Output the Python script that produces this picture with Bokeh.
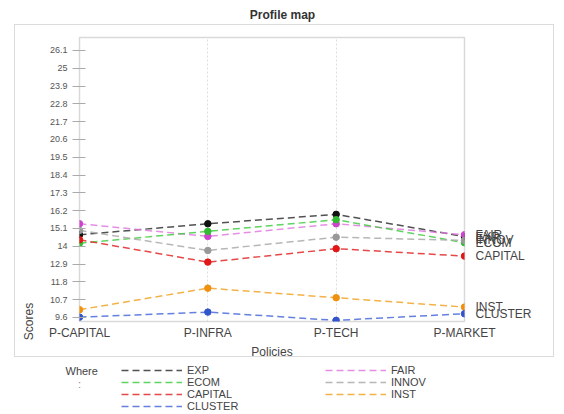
from bokeh.plotting import figure
from bokeh.layouts import column
from bokeh.models import (Range1d, FixedTicker, LinearAxis, Legend, LegendItem, Label,
                          InlineStyleSheet)
from bokeh.embed import file_html
from bokeh.resources import INLINE

# ---------------- data ----------------
policies = ["P-CAPITAL", "P-INFRA", "P-TECH", "P-MARKET"]
series_names = ["EXP", "FAIR", "ECOM", "INNOV", "CAPITAL", "INST", "CLUSTER"]
exp_vals = [14.71, 15.39, 15.97, 14.60]
fair_vals = [15.39, 14.61, 15.39, 14.71]
ecom_vals = [14.19, 14.92, 15.64, 14.22]
innov_vals = [14.98, 13.74, 14.56, 14.36]
capital_vals = [14.40, 13.02, 13.85, 13.39]
inst_vals = [10.08, 11.41, 10.82, 10.24]
cluster_vals = [9.62, 9.93, 9.42, 9.83]
y_ticks = [9.6, 10.7, 11.8, 12.9, 14.0, 15.1, 16.2, 17.3, 18.4, 19.5,
           20.6, 21.7, 22.8, 23.9, 25.0, 26.1]
y_tick_labels = ["9.6", "10.7", "11.8", "12.9", "14", "15.1", "16.2", "17.3",
                 "18.4", "19.5", "20.6", "21.7", "22.8", "23.9", "25", "26.1"]
legend_col1 = ["EXP", "ECOM", "CAPITAL", "CLUSTER"]
legend_col2 = ["FAIR", "INNOV", "INST"]

values = {"EXP": exp_vals, "FAIR": fair_vals, "ECOM": ecom_vals, "INNOV": innov_vals,
          "CAPITAL": capital_vals, "INST": inst_vals, "CLUSTER": cluster_vals}
line_colors = {"EXP": "#333333", "FAIR": "#e07ae0", "ECOM": "#44cc44", "INNOV": "#aaaaaa",
               "CAPITAL": "#e02828", "INST": "#f0a428", "CLUSTER": "#4a6ad8"}
point_colors = {"EXP": "#111111", "FAIR": "#cc44cc", "ECOM": "#33bb33", "INNOV": "#999999",
                "CAPITAL": "#e01818", "INST": "#f09010", "CLUSTER": "#3355cc"}

FONT = "Liberation Sans"
W = 560
FRAME_L, FRAME_R = 79, 464
xs = list(range(len(policies)))
DASH = "7 4"

# ---------------- title strip (frame aligned with main plot frame) ----------------
pt = figure(width=W, height=24, output_backend="svg", toolbar_location=None,
            x_range=Range1d(FRAME_L, FRAME_R), y_range=Range1d(0, 24),
            x_axis_location=None, y_axis_location=None, min_border=0,
            outline_line_color=None, border_fill_color="white")
pt.grid.visible = False
pt.add_layout(Label(x=282, y=10, text="Profile map", text_align="center",
                    text_baseline="middle", text_font=FONT, text_font_size="12px",
                    text_font_style="bold", text_color="#333333"))

# ---------------- main plot ----------------
box_css = InlineStyleSheet(css="""
:host { position: relative; }
:host::after {
  content: ""; position: absolute; left: 14px; top: 0px; width: 540px; height: 333px;
  border: 1.5px solid #dcdcdc; box-sizing: border-box; pointer-events: none;
}
""")

p = figure(width=W, height=340, output_backend="svg", toolbar_location=None,
           x_range=Range1d(0, 3), y_range=Range1d(9.35, 26.9),
           min_border_left=FRAME_L, min_border_right=W - FRAME_R,
           min_border_top=13, min_border_bottom=43,
           background_fill_color="white", border_fill_color="white",
           stylesheets=[box_css])
p.outline_line_color = "#d9d9d9"
p.outline_line_width = 1.5

xaxis = p.xaxis[0]
xaxis.ticker = FixedTicker(ticks=xs)
xaxis.major_label_overrides = {i: n for i, n in zip(xs, policies)}
xaxis.major_tick_line_color = None
xaxis.major_tick_out = 0
xaxis.major_tick_in = 0
xaxis.minor_tick_line_color = None
xaxis.axis_line_color = None
xaxis.major_label_standoff = 4
xaxis.major_label_text_font = FONT
xaxis.major_label_text_font_size = "12px"
xaxis.major_label_text_color = "#444444"
xaxis.axis_label = "Policies"
xaxis.axis_label_standoff = 2
xaxis.axis_label_text_font = FONT
xaxis.axis_label_text_font_size = "12px"
xaxis.axis_label_text_font_style = "normal"
xaxis.axis_label_text_color = "#444444"

yaxis = p.yaxis[0]
yaxis.ticker = FixedTicker(ticks=y_ticks)
yaxis.major_label_overrides = dict(zip(y_ticks, y_tick_labels))
yaxis.major_tick_out = 7
yaxis.major_tick_in = 6
yaxis.major_tick_line_color = "#aaaaaa"
yaxis.minor_tick_line_color = None
yaxis.axis_line_color = None
yaxis.major_label_standoff = 5
yaxis.major_label_text_font = FONT
yaxis.major_label_text_font_size = "9px"
yaxis.major_label_text_color = "#555555"
yaxis.axis_label = "Scores"
yaxis.axis_label_standoff = 11
yaxis.axis_label_text_font = FONT
yaxis.axis_label_text_font_size = "12px"
yaxis.axis_label_text_font_style = "normal"
yaxis.axis_label_text_color = "#444444"
yaxis.axis_label_align = "start"

# right axis carrying the series names at the last policy
end_values = [values[n][-1] for n in series_names]
end_axis = LinearAxis(ticker=FixedTicker(ticks=end_values),
                      major_label_overrides=dict(zip(end_values, series_names)))
end_axis.major_tick_out = 0
end_axis.major_tick_in = 0
end_axis.major_tick_line_color = None
end_axis.minor_tick_line_color = None
end_axis.axis_line_color = None
end_axis.major_label_standoff = 11
end_axis.major_label_text_font = FONT
end_axis.major_label_text_font_size = "12px"
end_axis.major_label_text_color = "#444444"
p.add_layout(end_axis, "right")

p.ygrid.grid_line_color = None
p.xgrid.grid_line_color = "#dddddd"
p.xgrid.grid_line_dash = "2 2"

for name in series_names:
    p.line(xs, values[name], line_color=line_colors[name], line_width=1.5,
           line_dash=DASH, line_alpha=0.85)
    p.scatter(xs, values[name], size=6.5, fill_color=point_colors[name],
              line_color=point_colors[name])

# ---------------- legend strip (separate root, full-canvas frame) ----------------
pl = figure(width=W, height=50, output_backend="svg", toolbar_location=None,
            x_range=Range1d(0, W), y_range=Range1d(0, 50),
            x_axis_location=None, y_axis_location=None, min_border=0,
            outline_line_color=None, border_fill_color="white")
pl.grid.visible = False
nan = float("nan")
key_renderers = {}
for name in series_names:
    key_renderers[name] = pl.line(x=[nan], y=[nan], line_color=line_colors[name],
                                  line_width=1.5, line_dash=DASH, line_alpha=0.85)

common = dict(orientation="vertical", glyph_width=61, glyph_height=12, label_height=12,
              label_standoff=5, spacing=0, padding=0, margin=0,
              border_line_color=None, background_fill_alpha=0,
              label_text_font=FONT, label_text_font_size="11px",
              label_text_color="#444444")
pl.add_layout(Legend(items=[LegendItem(label=n, renderers=[key_renderers[n]]) for n in legend_col1],
                     location=(121, 2), **common))
pl.add_layout(Legend(items=[LegendItem(label=n, renderers=[key_renderers[n]]) for n in legend_col2],
                     location=(325, 14), **common))
pl.add_layout(Label(x=65, y=44, text="Where", text_align="left", text_baseline="middle",
                    text_font=FONT, text_font_size="11px", text_color="#444444"))
pl.add_layout(Label(x=79, y=31, text=":", text_align="center", text_baseline="middle",
                    text_font=FONT, text_font_size="11px", text_color="#888888"))

main = column(pt, p, spacing=0)
open("out.html", "w").write(file_html([main, pl], INLINE))
